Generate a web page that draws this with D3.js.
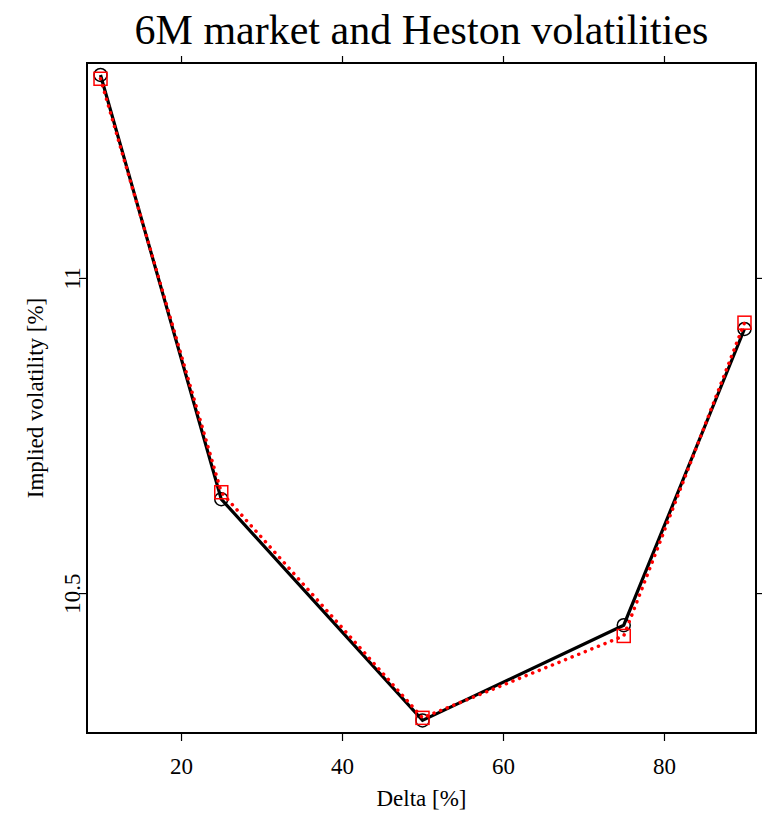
<!DOCTYPE html>
<html>
<head>
<meta charset="utf-8">
<script src="https://cdn.jsdelivr.net/npm/d3@7"></script>
<style>
  body { margin: 0; background: #fff; }
  text { font-family: "Liberation Serif", "Times New Roman", serif; }
</style>
</head>
<body>
<script>
// Data
const delta = [10, 25, 50, 75, 90];
const marketVol = [11.322, 10.649, 10.298, 10.449, 10.919];
const hestonVol = [11.316, 10.660, 10.302, 10.432, 10.929];
const xTicks = [20, 40, 60, 80];
const yTicks = [10.5, 11];

const W = 762, H = 815;
const margin = { top: 63, right: 6, bottom: 82, left: 87 };
const width = W - margin.left - margin.right;
const height = H - margin.top - margin.bottom;

const svg = d3.select('body').append('svg')
  .attr('width', W)
  .attr('height', H);

const x = d3.scaleLinear().domain([8.32, 91.43]).range([0, width]);
const y = d3.scaleLinear().domain([10.278, 11.341]).range([height, 0]);

const g = svg.append('g')
  .attr('transform', `translate(${margin.left},${margin.top})`);

// Title
svg.append('text')
  .attr('x', margin.left + width / 2)
  .attr('y', 44)
  .attr('text-anchor', 'middle')
  .style('font-size', '42px')
  .text('6M market and Heston volatilities');

// Axes (lattice style: labels bottom/left, ticks on all sides)
const fmt = d3.format('');
const axBottom = g.append('g')
  .attr('transform', `translate(0,${height})`)
  .call(d3.axisBottom(x).tickValues(xTicks).tickSize(8).tickPadding(17).tickFormat(fmt));
const axTop = g.append('g')
  .call(d3.axisTop(x).tickValues(xTicks).tickSize(7).tickFormat(''));
const axLeft = g.append('g')
  .call(d3.axisLeft(y).tickValues(yTicks).tickSize(8).tickFormat(fmt));
const axRight = g.append('g')
  .attr('transform', `translate(${width},0)`)
  .call(d3.axisRight(y).tickValues(yTicks).tickSize(6).tickFormat(''));

[axBottom, axTop, axLeft, axRight].forEach(a => {
  a.select('.domain').remove();
  a.selectAll('line').attr('stroke', '#000').attr('stroke-width', 1.2);
});
axBottom.selectAll('text').style('font-size', '23px').attr('fill', '#000');
// rotated y tick labels
axLeft.selectAll('text')
  .style('font-size', '23px')
  .attr('fill', '#000')
  .attr('text-anchor', 'middle')
  .attr('x', 0)
  .attr('y', 0)
  .attr('dy', 0)
  .attr('transform', 'translate(-7,0) rotate(-90)');

// Panel box
g.append('rect')
  .attr('width', width)
  .attr('height', height)
  .attr('fill', 'none')
  .attr('stroke', '#000')
  .attr('stroke-width', 2);

// Axis titles
svg.append('text')
  .attr('x', margin.left + width / 2)
  .attr('y', 806)
  .attr('text-anchor', 'middle')
  .style('font-size', '23px')
  .text('Delta [%]');
svg.append('text')
  .attr('transform', `translate(43,${margin.top + height / 2}) rotate(-90)`)
  .attr('text-anchor', 'middle')
  .style('font-size', '23px')
  .text('Implied volatility [%]');

const market = delta.map((d, i) => ({ x: d, y: marketVol[i] }));
const heston = delta.map((d, i) => ({ x: d, y: hestonVol[i] }));
const line = d3.line().x(d => x(d.x)).y(d => y(d.y));

// Market: black solid line with open circles
g.append('path')
  .datum(market)
  .attr('d', line)
  .attr('fill', 'none')
  .attr('stroke', '#000')
  .attr('stroke-width', 3.2);
g.selectAll('.mk')
  .data(market)
  .enter().append('circle')
  .attr('class', 'mk')
  .attr('cx', d => x(d.x))
  .attr('cy', d => y(d.y))
  .attr('r', 6.5)
  .attr('fill', 'none')
  .attr('stroke', '#000')
  .attr('stroke-width', 1.5);

// Heston: red dotted line with open squares
g.append('path')
  .datum(heston)
  .attr('d', line)
  .attr('fill', 'none')
  .attr('stroke', '#ff0000')
  .attr('stroke-width', 3.5)
  .attr('stroke-linecap', 'round')
  .attr('stroke-dasharray', '0.1 7');
g.selectAll('.hs')
  .data(heston)
  .enter().append('rect')
  .attr('class', 'hs')
  .attr('x', d => x(d.x) - 6.5)
  .attr('y', d => y(d.y) - 6.5)
  .attr('width', 13)
  .attr('height', 13)
  .attr('fill', 'none')
  .attr('stroke', '#ff0000')
  .attr('stroke-width', 1.5);
</script>
</body>
</html>
